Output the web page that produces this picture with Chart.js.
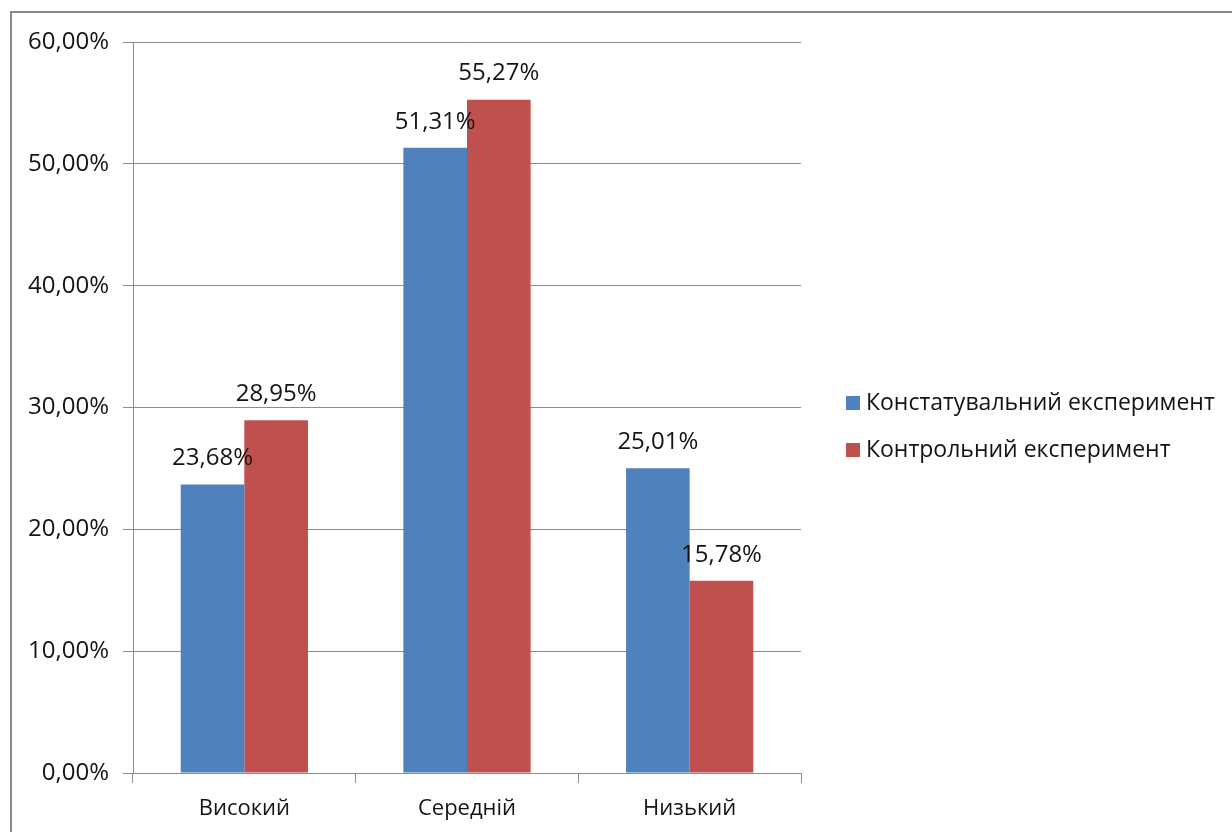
<!DOCTYPE html>
<html>
<head>
<meta charset="utf-8">
<script src="https://cdn.jsdelivr.net/npm/chart.js@4.4.1/dist/chart.umd.min.js"></script>
<style>
  html, body { margin: 0; padding: 0; background: #ffffff; }
  #wrap { position: relative; width: 1232px; height: 832px; }
  canvas { display: block; }
</style>
</head>
<body>
<div id="wrap"><canvas id="chart" width="1232" height="832"></canvas></div>
<script>
// Рівні сформованості та частка учнів (%) на кожному етапі експерименту
const categories = ['Високий', 'Середній', 'Низький'];
const seriesNames = ['Констатувальний експеримент', 'Контрольний експеримент'];
const stating = [23.68, 51.31, 25.01];
const control = [28.95, 55.27, 15.78];
const yTicks = [0, 10, 20, 30, 40, 50, 60];

const colors = ['#4F81BD', '#C0504D'];
const FONT = '"Open Sans", sans-serif';
const TEXT = '#141414';
const GRID = '#8c8c8c';

const fmt = v => v.toFixed(2).replace('.', ',') + '%';

// Рамка навколо всієї діаграми
const frame = {
  id: 'frame',
  beforeDraw(chart) {
    const c = chart.ctx;
    c.save();
    c.fillStyle = '#ffffff';
    c.fillRect(0, 0, chart.width, chart.height);
    c.strokeStyle = '#8a8a8a';
    c.lineWidth = 2;
    c.strokeRect(11, 12, chart.width + 20, chart.height + 20);
    c.restore();
  }
};

// Підписи значень над стовпчиками
const valueLabels = {
  id: 'valueLabels',
  afterDatasetsDraw(chart) {
    const c = chart.ctx;
    c.save();
    c.font = '24px ' + FONT;
    c.fillStyle = TEXT;
    c.textAlign = 'center';
    c.textBaseline = 'middle';
    chart.data.datasets.forEach((ds, i) => {
      chart.getDatasetMeta(i).data.forEach((bar, j) => {
        c.fillText(fmt(ds.data[j]), bar.x, bar.y - 26);
      });
    });
    c.restore();
  }
};

// Легенда праворуч від області побудови
const sideLegend = {
  id: 'sideLegend',
  afterDraw(chart) {
    const c = chart.ctx;
    c.save();
    c.font = '23px ' + FONT;
    c.textBaseline = 'middle';
    c.textAlign = 'left';
    seriesNames.forEach((name, i) => {
      const y = 403 + i * 47;
      c.fillStyle = colors[i];
      c.fillRect(846, y - 7, 14, 14);
      c.fillStyle = TEXT;
      c.fillText(name, 866, y);
    });
    c.restore();
  }
};

new Chart(document.getElementById('chart'), {
  type: 'bar',
  data: {
    labels: categories,
    datasets: [
      { label: seriesNames[0], data: stating, backgroundColor: colors[0], borderWidth: 0 },
      { label: seriesNames[1], data: control, backgroundColor: colors[1], borderWidth: 0 }
    ]
  },
  options: {
    responsive: false,
    animation: false,
    layout: { padding: { left: 0, top: 42, right: 431, bottom: 0 } },
    plugins: { legend: { display: false }, tooltip: { enabled: false } },
    datasets: { bar: { categoryPercentage: 2 / 3.5, barPercentage: 1 } },
    scales: {
      x: {
        afterFit(scale) { scale.height = 59; },
        grid: { offset: true, drawOnChartArea: false, drawTicks: true, tickLength: 10, color: GRID, lineWidth: 1 },
        border: { color: GRID, width: 1 },
        ticks: { font: { family: FONT, size: 22 }, color: TEXT, padding: 13 }
      },
      y: {
        min: 0, max: 60,
        afterFit(scale) { scale.width = 133; },
        afterBuildTicks(scale) { scale.ticks = yTicks.map(v => ({ value: v })); },
        grid: { color: GRID, lineWidth: 1, tickLength: 10 },
        border: { color: GRID, width: 1 },
        ticks: { font: { family: FONT, size: 24 }, color: TEXT, padding: 14, callback: v => fmt(v) }
      }
    }
  },
  plugins: [frame, valueLabels, sideLegend]
});
</script>
</body>
</html>
